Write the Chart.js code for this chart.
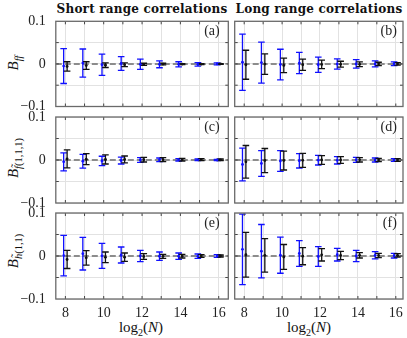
<!DOCTYPE html>
<html>
<head>
<meta charset="utf-8">
<script src="https://cdn.jsdelivr.net/npm/chart.js@4.4.0/dist/chart.umd.min.js"></script>
<style>
  body { margin: 0; background: #fff; }
  #fig { position: relative; width: 407px; height: 338px; overflow: hidden; font-family: "Liberation Serif", serif; color: #111; }
  #fig canvas { position: absolute; left: 0; top: 0; }
  .txt { position: absolute; white-space: nowrap; transform: translate(-50%, -50%); }
  .title { font-family: "DejaVu Serif", serif; font-weight: bold; font-size: 12px; letter-spacing: 0.2px; }
  .xlab { font-size: 15px; }
  .xlab sub { font-size: 10px; }
  .ylab { font-size: 15px; transform: translate(-50%, -50%) rotate(-90deg); }
  .ylab sub { font-size: 10.5px; }
</style>
</head>
<body>
<div id="fig">
  <div class="txt title" style="left:142px; top:9px;">Short range correlations</div>
  <div class="txt title" style="left:319px; top:9px;">Long range correlations</div>
  <div class="txt ylab" style="left:14px; top:63px;"><i>B</i><sub><i>ff</i></sub></div>
  <div class="txt ylab" style="left:14px; top:158px;"><i>B</i><sub><i>f&#771;</i>(1,1,1)</sub></div>
  <div class="txt ylab" style="left:14px; top:251px;"><i>B</i><sub><i>h&#771;</i>(1,1)</sub></div>
  <div class="txt xlab" style="left:141px; top:328px;">log<sub>2</sub>(<i>N</i>)</div>
  <div class="txt xlab" style="left:309px; top:328px;">log<sub>2</sub>(<i>N</i>)</div>
</div>
<script>
// x positions and ticks
const logN = [8, 9, 10, 11, 12, 13, 14, 15, 16];
const xTickLabels = ["8", "", "10", "", "12", "", "14", "", "16"];
const yTicks = [-0.1, -0.05, 0, 0.05, 0.1];
const yTickLabels = ["\u22120.1", "", "0", "", "0.1", ""];

// (a) short range, B_ff
const aBlue = [-0.005, 0.002, -0.002, 0.001, -0.001, -0.001, -0.001, -0.001, 0.0];
const aBlueErr = [0.041, 0.033, 0.025, 0.016, 0.012, 0.008, 0.006, 0.004, 0.0023];
const aBlack = [-0.006, -0.004, -0.003, -0.002, -0.001, -0.0005, -0.0005, -0.0004, 0.0];
const aBlackErr = [0.011, 0.009, 0.0055, 0.0043, 0.0025, 0.002, 0.0013, 0.0012, 0.0008];

// (b) long range, B_ff
const bBlue = [0.004, 0.003, -0.0016, 0.002, -0.002, -0.0004, 0.0, 0.0, 0.0004];
const bBlueErr = [0.066, 0.048, 0.036, 0.025, 0.018, 0.012, 0.010, 0.007, 0.0043];
const bBlack = [-0.002, -0.0004, -0.0035, -0.002, -0.0012, -0.0008, -0.0008, 0.0, 0.0];
const bBlackErr = [0.034, 0.024, 0.017, 0.013, 0.010, 0.007, 0.0054, 0.0039, 0.0031];

// (c) short range, B_f~(1,1,1)
const cBlue = [-0.0043, -0.0027, -0.0023, -0.0012, 0.0, 0.0004, 0.0004, 0.0004, 0.0];
const cBlueErr = [0.021, 0.016, 0.011, 0.0081, 0.0054, 0.0043, 0.0027, 0.0019, 0.0016];
const cBlack = [0.0027, 0.0019, 0.0012, 0.0012, 0.0008, 0.0008, 0.0008, 0.0008, 0.0004];
const cBlackErr = [0.021, 0.0128, 0.0105, 0.0081, 0.0054, 0.0047, 0.0031, 0.0023, 0.0019];

// (d) long range, B_f~(1,1,1)
const dBlue = [-0.0105, -0.0081, -0.0023, -0.0019, -0.0004, -0.0008, 0.0004, 0.0, 0.0];
const dBlueErr = [0.038, 0.030, 0.024, 0.0167, 0.0112, 0.0085, 0.0058, 0.0047, 0.0031];
const dBlack = [-0.0043, -0.0012, -0.0012, -0.0008, 0.0, 0.0, 0.0004, 0.0, 0.0];
const dBlackErr = [0.038, 0.028, 0.022, 0.0163, 0.010, 0.0078, 0.005, 0.0039, 0.0031];

// (e) short range, B_h~(1,1)
const eBlue = [0.0008, 0.0054, 0.0004, 0.0023, 0.0, -0.0004, -0.0004, -0.0004, 0.0];
const eBlueErr = [0.047, 0.038, 0.029, 0.0186, 0.0132, 0.0097, 0.0074, 0.005, 0.0031];
const eBlack = [-0.0081, -0.0043, -0.0031, -0.0027, -0.0012, -0.0008, -0.0004, 0.0, 0.0];
const eBlackErr = [0.021, 0.0167, 0.0124, 0.0097, 0.0066, 0.0047, 0.0043, 0.0031, 0.0023];

// (f) long range, B_h~(1,1)
const fBlue = [0.0155, 0.0112, 0.0019, 0.0058, -0.0012, 0.0031, 0.0, 0.0016, 0.0008];
const fBlueErr = [0.082, 0.062, 0.042, 0.030, 0.023, 0.0147, 0.0132, 0.0085, 0.0054];
const fBlack = [0.0031, 0.0016, -0.0023, -0.0004, 0.0027, 0.0012, 0.0016, 0.0012, 0.0016];
const fBlackErr = [0.052, 0.039, 0.029, 0.020, 0.0143, 0.0097, 0.0062, 0.005, 0.0039];

const W = 407, H = 338;
const BLUE = "#1010ff";
const BLACK = "#111111";
const SHIFT = 0.09;   // blue left, black right of each N
const CAP = 3.3;

// chart areas: [left, top, right, bottom]
const panels = [
  { tag: "(a)", box: [55.8, 21.3, 228.3, 106.5], xMax: 16.5, yLab: true,  xLab: false, blue: aBlue, blueErr: aBlueErr, black: aBlack, blackErr: aBlackErr },
  { tag: "(b)", box: [234.7, 21.3, 404, 106.5], xMax: 16.38, yLab: false, xLab: false, blue: bBlue, blueErr: bBlueErr, black: bBlack, blackErr: bBlackErr },
  { tag: "(c)", box: [55.8, 117, 228.3, 203], xMax: 16.5, yLab: true,  xLab: false, blue: cBlue, blueErr: cBlueErr, black: cBlack, blackErr: cBlackErr },
  { tag: "(d)", box: [234.7, 117, 404, 203], xMax: 16.38, yLab: false, xLab: false, blue: dBlue, blueErr: dBlueErr, black: dBlack, blackErr: dBlackErr },
  { tag: "(e)", box: [55.8, 213, 228.3, 299], xMax: 16.5, yLab: true,  xLab: true,  blue: eBlue, blueErr: eBlueErr, black: eBlack, blackErr: eBlackErr },
  { tag: "(f)", box: [234.7, 213, 404, 299], xMax: 16.38, yLab: false, xLab: true,  blue: fBlue, blueErr: fBlueErr, black: fBlack, blackErr: fBlackErr }
];

const tickFont = { family: "Liberation Serif", size: 14 };

// zero line, error bars, frame, inner ticks and panel tag
const errorBarPlugin = {
  id: "errorBars",
  beforeDatasetsDraw(chart) {
    const { ctx, chartArea: a, scales: { x, y } } = chart;
    ctx.save();
    const y0 = y.getPixelForValue(0);
    ctx.strokeStyle = "#8c8c8c";
    ctx.lineWidth = 2;
    ctx.setLineDash([6, 3]);
    ctx.beginPath();
    ctx.moveTo(a.left, y0);
    ctx.lineTo(a.right, y0);
    ctx.stroke();
    ctx.setLineDash([]);

    chart.data.datasets.forEach(ds => {
      ctx.strokeStyle = ds.backgroundColor;
      ctx.lineWidth = 1.3;
      ds.data.forEach((pt, i) => {
        const px = x.getPixelForValue(pt.x);
        const top = y.getPixelForValue(pt.y + ds.err[i]);
        const bot = y.getPixelForValue(pt.y - ds.err[i]);
        ctx.beginPath();
        ctx.moveTo(px, top); ctx.lineTo(px, bot);
        ctx.moveTo(px - CAP, top); ctx.lineTo(px + CAP, top);
        ctx.moveTo(px - CAP, bot); ctx.lineTo(px + CAP, bot);
        ctx.stroke();
      });
    });
    ctx.restore();
  },
  afterDraw(chart) {
    const { ctx, chartArea: a, scales: { x, y } } = chart;
    ctx.save();
    ctx.strokeStyle = "#444";
    ctx.lineWidth = 1;
    ctx.beginPath();
    logN.forEach(v => {
      const px = x.getPixelForValue(v);
      ctx.moveTo(px, a.top); ctx.lineTo(px, a.top + 3);
      ctx.moveTo(px, a.bottom); ctx.lineTo(px, a.bottom - 3);
    });
    yTicks.slice(1, -1).forEach(v => {
      const py = y.getPixelForValue(v);
      ctx.moveTo(a.left, py); ctx.lineTo(a.left + 3, py);
      ctx.moveTo(a.right, py); ctx.lineTo(a.right - 3, py);
    });
    ctx.stroke();

    ctx.strokeStyle = "#6a6a6a";
    ctx.lineWidth = 1.3;
    ctx.strokeRect(a.left, a.top, a.right - a.left, a.bottom - a.top);

    ctx.fillStyle = "#222";
    ctx.font = '14px "Liberation Serif"';
    ctx.textAlign = "right";
    ctx.textBaseline = "top";
    ctx.fillText(chart.options.plugins.tagText, x.getPixelForValue(16) + 1, a.top + 3);
    ctx.restore();
  }
};

function makePanel(p) {
  const fig = document.getElementById("fig");
  const canvas = document.createElement("canvas");
  canvas.width = W;
  canvas.height = H;
  fig.appendChild(canvas);
  const [L, T, R, B] = p.box;

  new Chart(canvas, {
    type: "scatter",
    data: {
      datasets: [
        {
          data: logN.map((n, i) => ({ x: n - SHIFT, y: p.blue[i] })),
          err: p.blueErr,
          backgroundColor: BLUE,
          borderWidth: 0,
          pointRadius: 1.4
        },
        {
          data: logN.map((n, i) => ({ x: n + SHIFT, y: p.black[i] })),
          err: p.blackErr,
          backgroundColor: BLACK,
          borderWidth: 0,
          pointRadius: 1.4
        }
      ]
    },
    options: {
      responsive: false,
      animation: false,
      events: [],
      layout: { padding: { left: 0, top: T, right: W - R, bottom: 0 } },
      plugins: { legend: { display: false }, tooltip: { enabled: false }, tagText: p.tag },
      scales: {
        x: {
          type: "linear",
          min: 7.5,
          max: p.xMax,
          afterBuildTicks: ax => { ax.ticks = logN.map(v => ({ value: v })); },
          afterFit: s => { s.height = H - B; s.paddingLeft = 0; s.paddingRight = 0; },
          grid: { color: "#e2e2e2", lineWidth: 1, drawTicks: false },
          border: { display: false },
          ticks: {
            display: p.xLab,
            autoSkip: false,
            maxRotation: 0,
            padding: 6,
            color: "#222",
            font: tickFont,
            callback: (v, i) => xTickLabels[i]
          }
        },
        y: {
          min: -0.1,
          max: 0.1,
          afterBuildTicks: ax => { ax.ticks = yTicks.map(v => ({ value: v })); },
          afterFit: s => { s.width = L; s.paddingTop = 0; s.paddingBottom = 0; },
          grid: { color: "#e2e2e2", lineWidth: 1, drawTicks: false },
          border: { display: false },
          ticks: {
            display: p.yLab,
            padding: 10,
            color: "#222",
            font: tickFont,
            callback: (v, i) => yTickLabels[i]
          }
        }
      }
    },
    plugins: [errorBarPlugin]
  });
}

panels.forEach(makePanel);
</script>
</body>
</html>
